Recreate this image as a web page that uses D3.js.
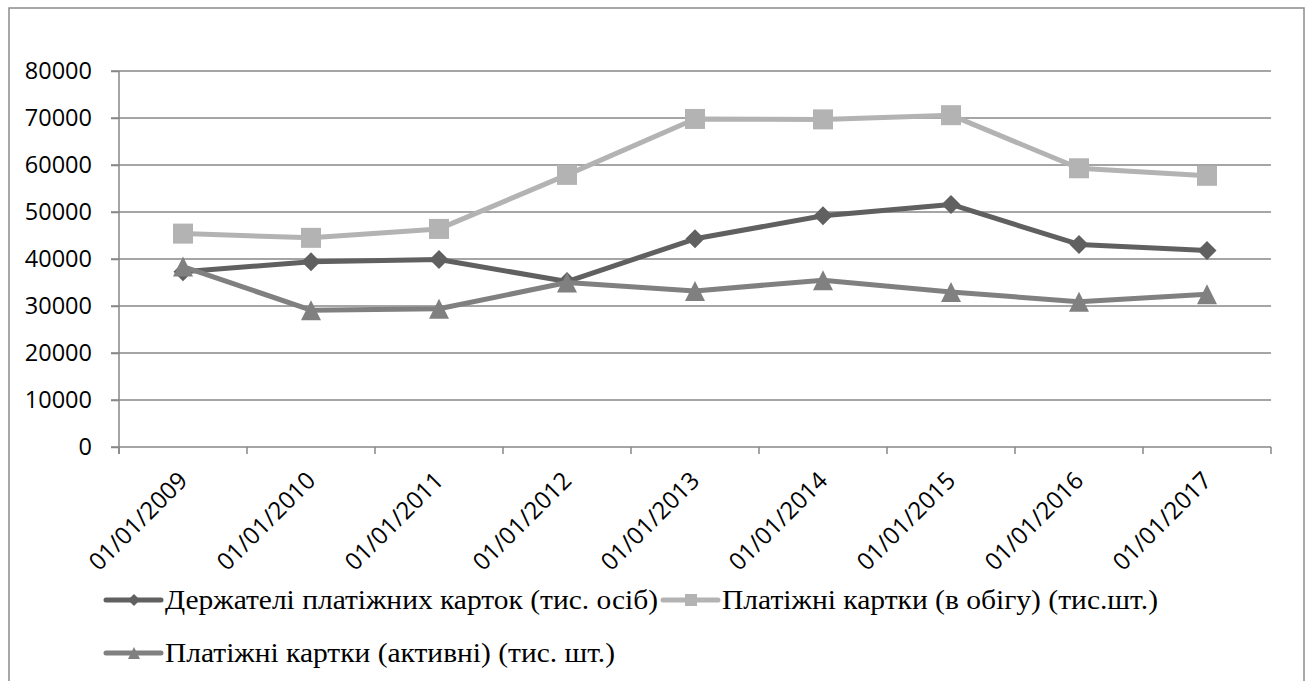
<!DOCTYPE html>
<html>
<head>
<meta charset="utf-8">
<script src="https://cdn.jsdelivr.net/npm/d3@7"></script>
<style>
  html, body { margin: 0; padding: 0; background: #fff; }
  svg { display: block; }
</style>
</head>
<body>
<svg id="chart" width="1309" height="681"></svg>
<script>
// Categories (dates) and series values, thousands
const categories = ["01/01/2009", "01/01/2010", "01/01/2011", "01/01/2012", "01/01/2013",
                    "01/01/2014", "01/01/2015", "01/01/2016", "01/01/2017"];
const holders  = [37300, 39400, 39900, 35200, 44300, 49200, 51600, 43100, 41800];
const inCirc   = [45400, 44500, 46400, 57900, 69800, 69700, 70600, 59300, 57700];
const active   = [38400, 29100, 29400, 35000, 33200, 35500, 33000, 30900, 32500];
const yTicks   = [0, 10000, 20000, 30000, 40000, 50000, 60000, 70000, 80000];
const seriesNames = ["Держателі платіжних карток (тис. осіб)",
                     "Платіжні картки (в обігу) (тис.шт.)",
                     "Платіжні картки (активні) (тис. шт.)"];

const series = [
  { name: seriesNames[0], values: holders, color: "#606060", marker: "diamond" },
  { name: seriesNames[1], values: inCirc,  color: "#b3b3b3", marker: "square" },
  { name: seriesNames[2], values: active,  color: "#808080", marker: "triangle" }
];

const svg = d3.select("#chart");
const gridColor = "#878787";
const sansFont = "Open Sans, sans-serif";
const serifFont = "Liberation Serif, Tinos, Noto Serif, DejaVu Serif, FreeSerif, serif";

// outer chart frame
svg.append("rect")
  .attr("x", 9).attr("y", 8).attr("width", 1295).attr("height", 700)
  .attr("fill", "#fff").attr("stroke", "#8c8c8c").attr("stroke-width", 1.5);

const x = d3.scaleBand().domain(categories).range([119, 1271]);
const y = d3.scaleLinear().domain([0, 80000]).range([447, 71]);

// horizontal gridlines
svg.append("g").selectAll("line").data(yTicks).join("line")
  .attr("x1", 111).attr("x2", 1271)
  .attr("y1", d => y(d)).attr("y2", d => y(d))
  .attr("stroke", gridColor).attr("stroke-width", 1.5);

// y axis
const yAxis = svg.append("g")
  .attr("transform", "translate(119,0)")
  .call(d3.axisLeft(y).tickValues(yTicks).tickSize(8).tickPadding(19).tickFormat(d3.format("d")));
yAxis.attr("font-family", sansFont).attr("font-size", 23.5);
yAxis.select(".domain").remove();
yAxis.selectAll(".tick line").attr("stroke", gridColor).attr("stroke-width", 1.5);
yAxis.selectAll(".tick text").attr("fill", "#000");
svg.append("line")
  .attr("x1", 119).attr("x2", 119).attr("y1", y(80000)).attr("y2", y(0) + 7)
  .attr("stroke", gridColor).attr("stroke-width", 1.5);

// x axis tick marks on category boundaries
const boundaries = categories.map(c => x(c)).concat([x.range()[1]]);
svg.append("g").selectAll("line").data(boundaries).join("line")
  .attr("x1", d => d).attr("x2", d => d)
  .attr("y1", y(0)).attr("y2", y(0) + 7)
  .attr("stroke", gridColor).attr("stroke-width", 1.5);

// rotated category labels
svg.append("g").attr("font-family", sansFont).attr("font-size", 24)
  .selectAll("text").data(categories).join("text")
  .attr("transform", d => `translate(${x(d) + x.bandwidth() / 2 + 6},482) rotate(-45)`)
  .attr("text-anchor", "end")
  .attr("fill", "#000")
  .text(d => d);

// marker shapes
function drawMarker(g, type, cx, cy, s, color) {
  if (type === "diamond") {
    g.append("path").attr("d", `M${cx},${cy - s} L${cx + s},${cy} L${cx},${cy + s} L${cx - s},${cy} Z`).attr("fill", color);
  } else if (type === "square") {
    g.append("rect").attr("x", cx - s).attr("y", cy - s).attr("width", 2 * s).attr("height", 2 * s).attr("fill", color);
  } else {
    g.append("path").attr("d", `M${cx},${cy - s} L${cx + s},${cy + s} L${cx - s},${cy + s} Z`).attr("fill", color);
  }
}

const line = d3.line()
  .x((d, i) => x(categories[i]) + x.bandwidth() / 2)
  .y(d => y(d));

series.forEach(s => {
  const g = svg.append("g");
  g.append("path").datum(s.values)
    .attr("d", line).attr("fill", "none")
    .attr("stroke", s.color).attr("stroke-width", 5).attr("stroke-linejoin", "round");
  const size = s.marker === "diamond" ? 9.5 : 10;
  s.values.forEach((v, i) => {
    drawMarker(g, s.marker, x(categories[i]) + x.bandwidth() / 2, y(v), size, s.color);
  });
});

// legend: entries are spread to their full row widths
const legendItems = [
  { s: series[0], x0: 106, y0: 600, w: 493 },
  { s: series[1], x0: 663, y0: 600, w: 436 },
  { s: series[2], x0: 106, y0: 653, w: 450 }
];
const legend = svg.append("g").attr("font-family", serifFont).attr("font-size", 27);
legendItems.forEach(it => {
  const g = legend.append("g");
  g.append("line").attr("x1", it.x0).attr("x2", it.x0 + 55)
    .attr("y1", it.y0).attr("y2", it.y0)
    .attr("stroke", it.s.color).attr("stroke-width", 5).attr("stroke-linecap", "round");
  drawMarker(g, it.s.marker, it.x0 + 28, it.y0, 6, it.s.color);
  g.append("text")
    .attr("x", it.x0 + 59).attr("y", it.y0 + 9)
    .attr("fill", "#000")
    .attr("textLength", it.w).attr("lengthAdjust", "spacingAndGlyphs")
    .text(it.s.name);
});
</script>
</body>
</html>
